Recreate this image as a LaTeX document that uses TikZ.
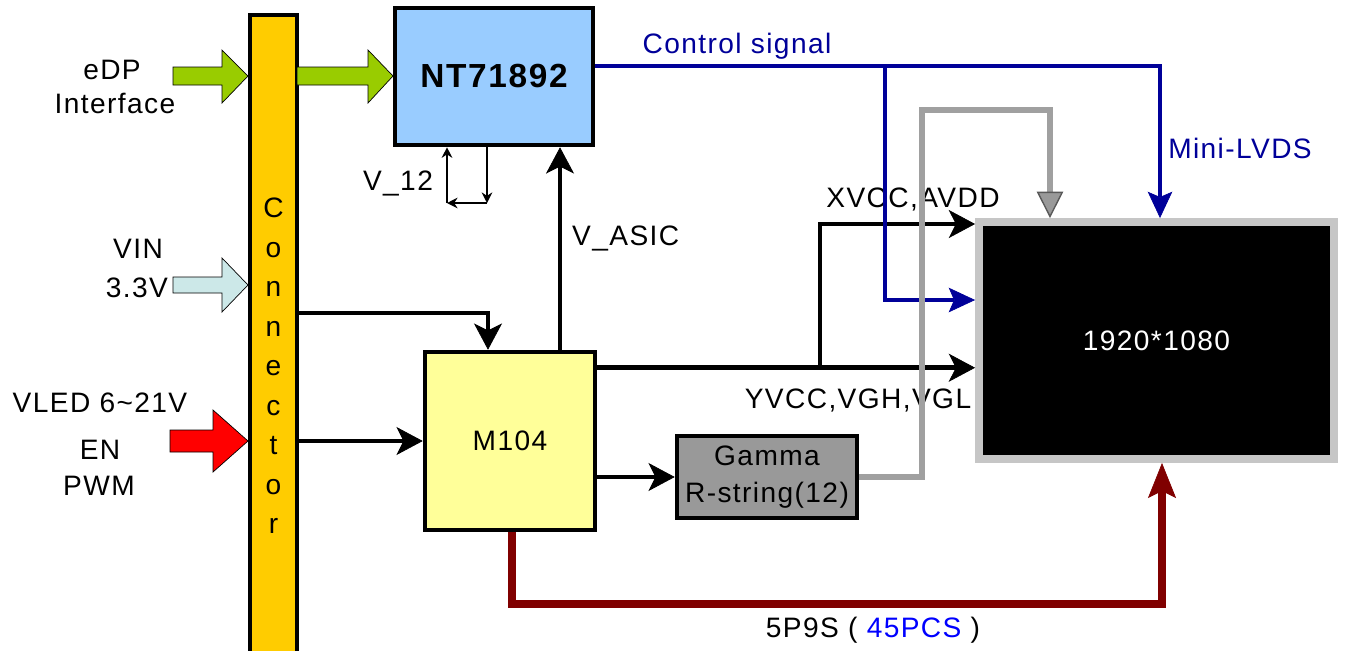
\documentclass[tikz,border=0pt]{standalone}
\usepackage{fontspec}
\setmainfont[LetterSpace=5]{Liberation Sans}
\usetikzlibrary{arrows.meta,calc}

\definecolor{connorange}{HTML}{FFCC00}
\definecolor{ntblue}{HTML}{99CCFF}
\definecolor{mpale}{HTML}{FFFF99}
\definecolor{gammagray}{HTML}{999999}
\definecolor{edpgreen}{HTML}{99CC00}
\definecolor{vinblue}{HTML}{CCE8E8}
\definecolor{ctlblue}{HTML}{000099}
\definecolor{pcsblue}{HTML}{0000FF}
\definecolor{busred}{HTML}{800000}
\definecolor{gline}{HTML}{A0A0A0}

\begin{document}
\begin{tikzpicture}[x=0.02cm, y=-0.02cm,
    >={Stealth[length=15pt,width=16pt,inset=4pt,line width=0.4pt]},
    font=\fontsize{16}{19}\selectfont,
    blk/.style={draw, line width=2.6pt, inner sep=0pt},
    pwr/.style={line width=2.8pt, ->},
    ctl/.style={draw=ctlblue, line width=2.4pt, -{Stealth[length=15pt,width=14pt,inset=3pt,line width=0.4pt]}},
    gsig/.style={draw=gline, line width=3pt, -{Triangle[length=15pt,width=15pt,color=black!65,fill=gammagray,line width=0.8pt]}},
    bus/.style={draw=busred, line width=4pt, -{Stealth[length=20pt,width=16pt,inset=4pt,line width=0.4pt]}},
    loopln/.style={line width=1.2pt, -{Stealth[length=6pt,width=6pt]}}]
    \useasboundingbox (0,0) rectangle (1346,650);

    % blocks
    \node[blk, fill=connorange, minimum width=0.94cm, minimum height=12.9cm] (conn) at (273.5,337.5) {};
    \node[align=center, font=\fontsize{16}{22.5}\selectfont] (conntxt) at (273.5,366) {C\\o\\n\\n\\e\\c\\t\\o\\r};
    \node[blk, fill=ntblue, minimum width=3.96cm, minimum height=2.74cm,
          font=\bfseries\fontsize{19}{22}\selectfont] (nt) at (494,76.5) {NT71892};
    \node[blk, fill=mpale, minimum width=3.4cm, minimum height=3.56cm] (m104) at (510,441) {M104};
    \node[blk, fill=gammagray, minimum width=3.6cm, minimum height=1.64cm, align=center,
          font=\fontsize{16}{21}\selectfont] (gamma) at (767,477) {Gamma\\R-string(12)};
    \node[draw=gray!45, line width=4.5pt, fill=black, text=white,
          minimum width=7.1cm, minimum height=4.74cm] (panel) at (1156.5,340.5) {1920*1080};

    % inputs
    \filldraw[fill=edpgreen, draw=black, thin] (173,67) -- (222,67) -- (222,50) -- (248,76)
        -- (222,103) -- (222,85) -- (173,85) -- cycle;
    \filldraw[fill=edpgreen, draw=black, thin] (297,67) -- (368,67) -- (368,50) -- (393,76)
        -- (368,103) -- (368,85) -- (297,85) -- cycle;
    \filldraw[fill=vinblue, draw=black, thin] (173,277) -- (222,277) -- (222,258) -- (248,285)
        -- (222,312) -- (222,293) -- (173,293) -- cycle;
    \filldraw[fill=red, draw=black, thin] (170,430) -- (213,430) -- (213,410) -- (248,441)
        -- (213,472) -- (213,452) -- (170,452) -- cycle;
    \node (edp) at (112,70) {eDP};
    \node (edp2) at (115,103) {Interface};
    \node (vin) at (138,249) {VIN};
    \node (vin2) at (137,288) {3.3V};
    \node (vled) at (100,403) {VLED 6\textasciitilde21V};
    \node (en) at (100,450) {EN};
    \node (pwm) at (99,486) {PWM};

    % power
    \draw[pwr] (conn.east |- 0,313) -| (m104.north -| 488,0);
    \draw[pwr] (conn.east |- m104.west) -- (m104.west);
    \draw[pwr] (m104.north -| 560,0) -- (nt.south -| 560,0);
    \node[right] (vasic) at (566,238) {V\_ASIC};
    \coordinate (ysig) at ($(m104.north east)+(0,18)$);
    \draw[pwr] (ysig) -- (ysig -| panel.west);
    \draw[pwr] (ysig -| 820,0) |- (panel.west |- 0,224);
    \node (xvcc) at (913,199) {XVCC,AVDD};
    \node (yvcc) at (858,400) {YVCC,VGH,VGL};
    \draw[pwr] (m104.east |- gamma.west) -- (gamma.west);

    % V_12 loop
    \coordinate (v12r) at (487,203);
    \coordinate (v12l) at (447,203);
    \draw[loopln] (nt.south -| v12r) -- (v12r);
    \draw[loopln] (v12r) -- (v12l);
    \draw[loopln] (v12l) -- (nt.south -| v12l);
    \node (v12) at (398,183) {V\_12};

    % control
    \coordinate (ctlout) at ($(nt.north east)+(0,60)$);
    \draw[ctl] (ctlout) -| (panel.north -| 1160,0);
    \draw[ctl] (ctlout -| 885,0) |- (panel.west |- 0,300);
    \node[text=ctlblue] (ctltxt) at (737,46) {Control signal};
    \node[text=ctlblue] (lvds) at (1240,148) {Mini-LVDS};

    % gamma out
    \draw[gsig] (gamma.east) -| (922,110) -| (panel.north -| 1050,0);

    % 5P9S
    \draw[bus] (m104.south -| 512,0) |- (1162,604) -- (panel.south -| 1162,0);
    \node (pcs) at (873,630) {5P9S ( \textcolor{pcsblue}{45PCS} )};
\end{tikzpicture}
\end{document}
